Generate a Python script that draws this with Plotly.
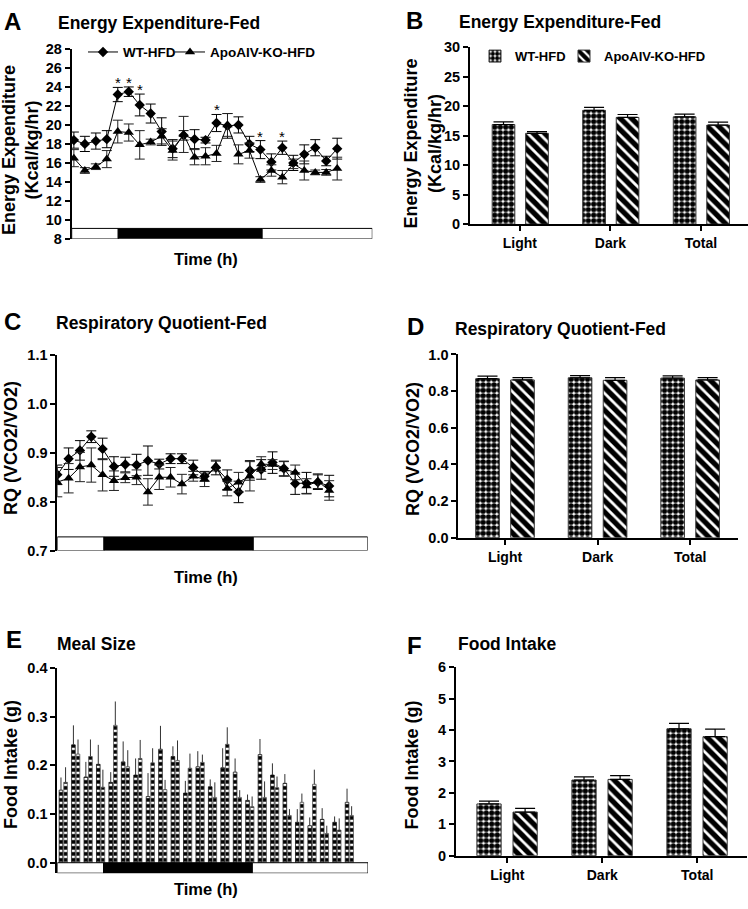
import plotly.graph_objects as go

W, H = 748, 909
FONT = "Liberation Sans"

# ---------------- data ----------------
# Panel A: energy expenditure (Kcal/kg/hr), hourly
hours_A = [0, 1, 2, 3, 4, 5, 6, 7, 8, 9, 10, 11, 12, 13, 14, 15, 16, 17, 18, 19, 20, 21, 22, 23, 24]
ee_wt = [18.4, 18.0, 18.3, 18.5, 23.2, 23.5, 22.1, 21.2, 19.3, 17.5, 18.9, 18.5, 18.4,
         20.2, 19.9, 20.0, 18.0, 17.4, 16.1, 17.6, 16.0, 16.9, 17.6, 16.2, 17.5]
ee_wt_err = [0.85, 0.8, 0.85, 0.9, 0.75, 0.5, 1.15, 1.0, 1.45, 0.95, 0.5, 1.0, 0.3,
             0.9, 1.3, 0.85, 0.8, 0.95, 0.85, 0.7, 0.8, 1.0, 0.85, 0.5, 1.1]
ee_ko = [16.5, 15.2, 15.6, 16.4, 19.3, 19.2, 17.9, 18.2, 18.8, 17.3, 19.0, 16.6, 16.7,
         17.0, 20.0, 16.9, 17.3, 14.25, 15.2, 14.5, 15.9, 15.2, 15.0, 15.0, 15.4]
ee_ko_err = [0.9, 0.3, 0.3, 0.9, 1.2, 0.9, 1.5, 0.3, 0.8, 1.0, 1.9, 0.8, 0.9,
             0.85, 1.2, 1.0, 0.8, 0.3, 0.6, 0.7, 0.5, 1.0, 0.25, 0.3, 1.2]
stars_A = [4, 5, 6, 13, 17, 19]
lightdark_A = [-0.2, 4.04, 17.16, 27.2]

# Panel C: respiratory quotient, hourly
hours_C = [0, 1, 2, 3, 4, 5, 6, 7, 8, 9, 10, 11, 12, 13, 14, 15, 16, 17, 18, 19, 20, 21, 22, 23, 24]
rq_wt = [0.855, 0.888, 0.905, 0.933, 0.908, 0.872, 0.876, 0.875, 0.884, 0.877, 0.888, 0.888,
         0.870, 0.852, 0.870, 0.845, 0.820, 0.864, 0.866, 0.880, 0.868, 0.837, 0.838, 0.840, 0.832]
rq_wt_err = [0.02, 0.022, 0.02, 0.012, 0.022, 0.02, 0.015, 0.022, 0.03, 0.01, 0.01, 0.01,
             0.015, 0.01, 0.015, 0.02, 0.022, 0.02, 0.02, 0.022, 0.015, 0.022, 0.022, 0.015, 0.022]
rq_ko = [0.840, 0.848, 0.871, 0.875, 0.855, 0.843, 0.849, 0.850, 0.820, 0.850, 0.850, 0.836,
         0.852, 0.846, 0.873, 0.827, 0.840, 0.852, 0.877, 0.876, 0.867, 0.860, 0.832, 0.842, 0.823]
rq_ko_err = [0.03, 0.03, 0.03, 0.035, 0.033, 0.02, 0.01, 0.015, 0.027, 0.025, 0.02, 0.02,
             0.01, 0.015, 0.01, 0.015, 0.02, 0.03, 0.015, 0.01, 0.015, 0.015, 0.015, 0.015, 0.02]
lightdark_C = [0.0, 4.12, 17.3, 27.4]

# Panel E: meal size (g), hourly
hours_E = [0, 1, 2, 3, 4, 5, 6, 7, 8, 9, 10, 11, 12, 13, 14, 15, 16, 17, 18, 19, 20, 21, 22, 23]
meal_wt = [0.149, 0.242, 0.176, 0.202, 0.165, 0.207, 0.180, 0.136, 0.233, 0.218, 0.143, 0.197,
           0.156, 0.195, 0.186, 0.128, 0.222, 0.180, 0.163, 0.083, 0.076, 0.089, 0.083, 0.124]
meal_wt_err = [0.026, 0.040, 0.031, 0.040, 0.021, 0.042, 0.034, 0.048, 0.048, 0.021, 0.025, 0.032,
               0.015, 0.040, 0.028, 0.012, 0.032, 0.024, 0.019, 0.027, 0.017, 0.023, 0.012, 0.028]
meal_ko = [0.165, 0.223, 0.218, 0.155, 0.282, 0.197, 0.214, 0.205, 0.150, 0.210, 0.194, 0.206,
           0.134, 0.243, 0.134, 0.115, 0.134, 0.154, 0.097, 0.124, 0.161, 0.060, 0.067, 0.097]
meal_ko_err = [0.031, 0.030, 0.035, 0.036, 0.049, 0.034, 0.038, 0.030, 0.020, 0.041, 0.030, 0.016,
               0.031, 0.035, 0.015, 0.021, 0.033, 0.023, 0.013, 0.018, 0.030, 0.016, 0.024, 0.019]
lightdark_E = [-0.48, 3.24, 15.2, 24.5]

# Bar panels
periods = ["Light", "Dark", "Total"]
ee_bar_wt = [16.9, 19.3, 18.2]
ee_bar_wt_err = [0.45, 0.5, 0.45]
ee_bar_ko = [15.4, 18.1, 16.8]
ee_bar_ko_err = [0.3, 0.5, 0.5]

rq_bar_wt = [0.868, 0.873, 0.871]
rq_bar_wt_err = [0.014, 0.012, 0.012]
rq_bar_ko = [0.861, 0.859, 0.861]
rq_bar_ko_err = [0.013, 0.015, 0.013]

fi_bar_wt = [1.65, 2.41, 4.04]
fi_bar_wt_err = [0.09, 0.10, 0.17]
fi_bar_ko = [1.39, 2.43, 3.79]
fi_bar_ko_err = [0.12, 0.12, 0.24]

WT_NAME = "WT-HFD"
KO_NAME = "ApoAIV-KO-HFD"

# ---------------- helpers ----------------
def xd(a, b):
    return [a / W, b / W]

def yd(top, bottom):
    return [1 - bottom / H, 1 - top / H]

def px(x):
    return x / W

def py(y):
    return 1 - y / H

BOLD = dict(family=FONT, color="black", weight="bold")

def f(size):
    d = dict(BOLD)
    d["size"] = size
    return d

CHECK = dict(shape=".", fgcolor="black", bgcolor="white", size=5.5, solidity=0.72,
             fgopacity=1, fillmode="replace")
STRIPE = dict(shape="\\", fgcolor="black", bgcolor="white", size=8, solidity=0.65,
              fgopacity=1, fillmode="replace")
DASH = dict(shape="-", fgcolor="white", bgcolor="black", size=6, solidity=0.4,
            fgopacity=1, fillmode="replace")

fig = go.Figure()

# ---------- Panel A ----------
fig.add_trace(go.Scatter(
    x=hours_A, y=ee_wt, name=WT_NAME, mode="lines+markers", xaxis="x", yaxis="y",
    line=dict(color="black", width=1), marker=dict(symbol="diamond", size=8, color="black"),
    error_y=dict(type="data", array=ee_wt_err, color="black", thickness=1, width=5),
    legend="legend"))
fig.add_trace(go.Scatter(
    x=hours_A, y=ee_ko, name=KO_NAME, mode="lines+markers", xaxis="x", yaxis="y",
    line=dict(color="black", width=1), marker=dict(symbol="triangle-up", size=9, color="black"),
    error_y=dict(type="data", array=ee_ko_err, color="#222", thickness=1, width=5),
    legend="legend3"))

# ---------- Panel C ----------
fig.add_trace(go.Scatter(
    x=hours_C, y=rq_wt, name=WT_NAME, mode="lines+markers", xaxis="x3", yaxis="y3",
    line=dict(color="black", width=1), marker=dict(symbol="diamond", size=8, color="black"),
    error_y=dict(type="data", array=rq_wt_err, color="black", thickness=1, width=5),
    showlegend=False))
fig.add_trace(go.Scatter(
    x=hours_C, y=rq_ko, name=KO_NAME, mode="lines+markers", xaxis="x3", yaxis="y3",
    line=dict(color="black", width=1), marker=dict(symbol="triangle-up", size=9, color="black"),
    error_y=dict(type="data", array=rq_ko_err, color="#222", thickness=1, width=5),
    showlegend=False))

# ---------- Panel E ----------
fig.add_trace(go.Bar(
    x=hours_E, y=meal_wt, name=WT_NAME, xaxis="x5", yaxis="y5", offset=-0.33, width=0.29,
    opacity=1,
    marker=dict(color="black", opacity=1, line=dict(color="#111", width=0.8), pattern=DASH),
    error_y=dict(type="data", array=meal_wt_err, arrayminus=[0] * len(meal_wt),
                 color="#333", thickness=1, width=0),
    showlegend=False))
fig.add_trace(go.Bar(
    x=hours_E, y=meal_ko, name=KO_NAME, xaxis="x5", yaxis="y5", offset=0.04, width=0.29,
    opacity=1,
    marker=dict(color="black", opacity=1, line=dict(color="#555", width=0.8), pattern=DASH),
    error_y=dict(type="data", array=meal_ko_err, arrayminus=[0] * len(meal_ko),
                 color="#333", thickness=1, width=0),
    showlegend=False))

# ---------- Bar panels B, D, F ----------
def bar_pair(ax, wt, wt_err, ko, ko_err, legend_on, wt_off, ko_off, bw):
    fig.add_trace(go.Bar(
        x=periods, y=wt, name=WT_NAME, xaxis="x" + ax, yaxis="y" + ax, offset=wt_off, width=bw,
        opacity=1,
        marker=dict(color="white", opacity=1, line=dict(color="#333", width=1), pattern=CHECK),
        error_y=dict(type="data", array=wt_err, arrayminus=[0] * 3, color="black",
                     thickness=1.2, width=10),
        showlegend=legend_on, legend="legend2"))
    fig.add_trace(go.Bar(
        x=periods, y=ko, name=KO_NAME, xaxis="x" + ax, yaxis="y" + ax, offset=ko_off, width=bw,
        opacity=1,
        marker=dict(color="white", opacity=1, line=dict(color="#333", width=1), pattern=STRIPE),
        error_y=dict(type="data", array=ko_err, arrayminus=[0] * 3, color="black",
                     thickness=1.2, width=10),
        showlegend=legend_on, legend="legend4"))

bar_pair("2", ee_bar_wt, ee_bar_wt_err, ee_bar_ko, ee_bar_ko_err, True, -0.305, 0.065, 0.25)
bar_pair("4", rq_bar_wt, rq_bar_wt_err, rq_bar_ko, rq_bar_ko_err, False, -0.317, 0.061, 0.255)
bar_pair("6", fi_bar_wt, fi_bar_wt_err, fi_bar_ko, fi_bar_ko_err, False, -0.32, 0.06, 0.255)

# ---------------- axes ----------------
def yax(domain, rng, dtick, fmt=None, anchor="x"):
    d = dict(domain=domain, range=rng, dtick=dtick, tick0=0, showline=True, linecolor="black",
             linewidth=1.8, ticks="outside", ticklen=5, tickwidth=1.5, tickcolor="black",
             showgrid=False, zeroline=False, tickfont=f(14.5), anchor=anchor)
    if fmt:
        d["tickformat"] = fmt
    return d

def xax_hidden(domain, rng, anchor):
    return dict(domain=domain, range=rng, showline=False, showticklabels=False, ticks="",
                showgrid=False, zeroline=False, anchor=anchor)

def xax_cat(domain, rng, anchor):
    return dict(domain=domain, range=rng, showline=True, linecolor="black", linewidth=1.8,
                ticks="outside", ticklen=5, tickwidth=1.5, tickcolor="black", showgrid=False,
                zeroline=False, tickfont=f(14), anchor=anchor, type="category")

def leg(x, y, size):
    return dict(orientation="h", x=px(x), y=py(y), xanchor="left", yanchor="middle",
                font=f(size), bgcolor="rgba(0,0,0,0)", itemwidth=30)

layout = dict(
    width=W, height=H, margin=dict(l=0, r=0, t=0, b=0),
    paper_bgcolor="white", plot_bgcolor="rgba(0,0,0,0)",
    barmode="overlay", font=dict(family=FONT, color="black"),
    xaxis=xax_hidden(xd(71.7, 372.3), [lightdark_A[0], lightdark_A[-1]], "y"),
    yaxis=yax(yd(41.7, 235), [8, 28], 2, anchor="x"),
    xaxis2=xax_cat(xd(470, 748), [-0.55, 2.52], "y2"),
    yaxis2=yax(yd(40, 220), [0, 30], 5, anchor="x2"),
    xaxis3=xax_hidden(xd(57.3, 367.7), [lightdark_C[0], lightdark_C[-1]], "y3"),
    yaxis3=yax(yd(353.3, 552.3), [0.7, 1.1], 0.1, ".1f", anchor="x3"),
    xaxis4=xax_cat(xd(458.3, 738.3), [-0.505, 2.52], "y4"),
    yaxis4=yax(yd(352.7, 539.3), [0, 1.0], 0.2, ".1f", anchor="x4"),
    xaxis5=xax_hidden(xd(57.3, 368), [lightdark_E[0], lightdark_E[-1]], "y5"),
    yaxis5=yax(yd(671.7, 880.7), [-0.0215, 0.4], 0.1, ".1f", anchor="x5"),
    xaxis6=xax_cat(xd(456, 746.7), [-0.54, 2.52], "y6"),
    yaxis6=yax(yd(671, 863), [0, 6], 1, anchor="x6"),
    legend=leg(83, 45, 13.5),
    legend3=leg(170, 45, 13.5),
    legend2=leg(475, 49, 13),
    legend4=leg(564, 49, 13),
)
fig.update_layout(**layout)

# ---------------- light/dark bars ----------------
shapes = []
def lightdark(xref, yref, edges, y0, y1):
    fills = ["white", "black", "white"]
    for i in range(3):
        shapes.append(dict(type="rect", xref=xref, yref=yref, x0=edges[i], x1=edges[i + 1],
                           y0=y0, y1=y1, fillcolor=fills[i], line=dict(color="black", width=1),
                           layer="above"))

lightdark("x", "y", lightdark_A, 8, 9.1)
lightdark("x3", "y3", lightdark_C, 0.7, 0.728)
lightdark("x5", "y5", lightdark_E, -0.0215, 0)
fig.update_layout(shapes=shapes)

# ---------------- text ----------------
ann = []
def text(x, y, s, size, xanchor="left", angle=0):
    ann.append(dict(x=px(x), y=py(y), xref="paper", yref="paper", text=s, showarrow=False,
                    xanchor=xanchor, yanchor="middle", textangle=angle, font=f(size)))

# panel letters
text(2, 13.5, "A", 24)
text(404, 12.5, "B", 24)
text(2, 319, "C", 24)
text(405, 324, "D", 24)
text(4, 643, "E", 24)
text(405, 648.5, "F", 24)
# panel titles
text(56, 15, "Energy Expenditure-Fed", 17.5)
text(457, 14, "Energy Expenditure-Fed", 17.5)
text(54, 320.5, "Respiratory Quotient-Fed", 17.5)
text(453, 327, "Respiratory Quotient-Fed", 17.5)
text(55, 647.5, "Meal Size", 17.5)
text(456, 647.5, "Food Intake", 17.5)
# axis titles
text(20.5, 145, "Energy Expenditure<br>(Kcal/kg/hr)", 18, "center", -90)
text(423, 138, "Energy Expenditure<br>(Kcal/kg/hr)", 18, "center", -90)
text(11, 448, "RQ (VCO2/VO2)", 18, "center", -90)
text(413, 449, "RQ (VCO2/VO2)", 18, "center", -90)
text(11, 770.5, "Food Intake (g)", 18, "center", -90)
text(412, 771, "Food Intake (g)", 18, "center", -90)
text(205.7, 256, "Time (h)", 16.5, "center")
text(205.7, 579, "Time (h)", 16.5, "center")
text(206, 897, "Time (h)", 16.5, "center")

# significance stars
for i in stars_A:
    ann.append(dict(x=hours_A[i], y=ee_wt[i] + ee_wt_err[i], xref="x", yref="y", text="*",
                    showarrow=False, xanchor="center", yanchor="bottom", yshift=-6,
                    font=dict(family=FONT, size=15, color="black")))

fig.update_layout(annotations=ann)
fig.write_html("out.html", config={"displayModeBar": False},
               post_script="document.body.style.margin='0px';")
